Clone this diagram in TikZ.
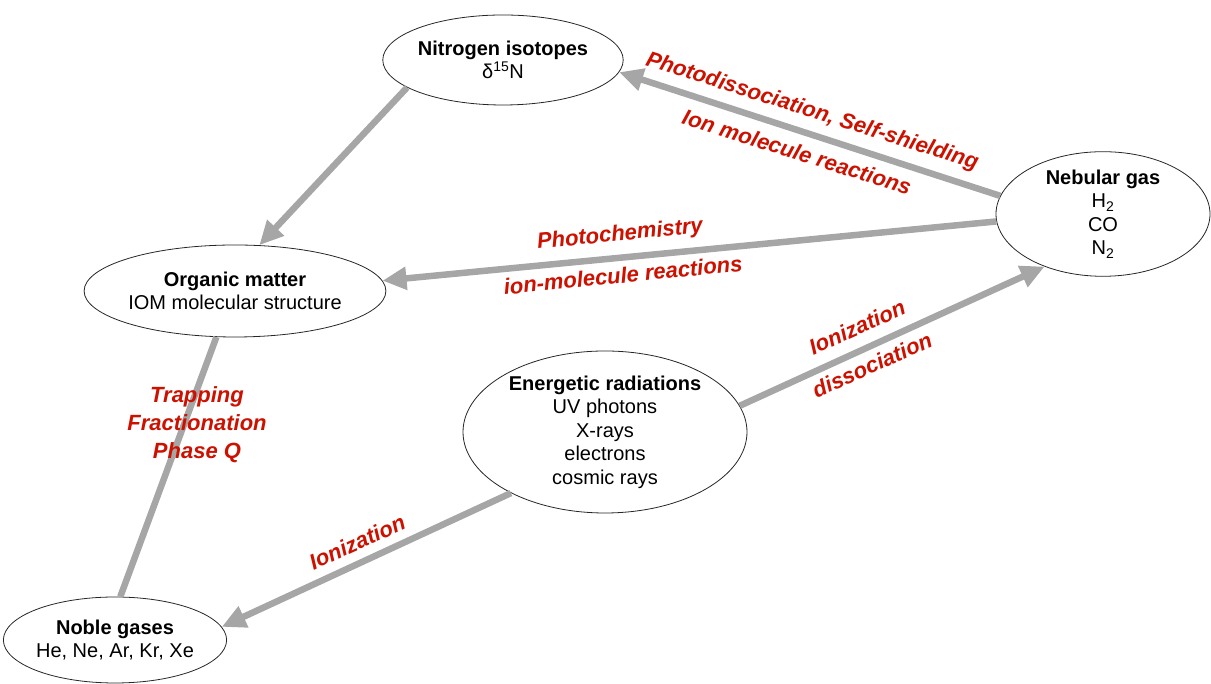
\documentclass[tikz,border=0pt]{standalone}
\usepackage{fontspec}
\setmainfont{Liberation Sans}
\usepackage{tikz}
\usetikzlibrary{arrows.meta,shapes.geometric,positioning}
\definecolor{procred}{RGB}{204,17,0}
\definecolor{flowgray}{RGB}{166,166,166}

\begin{document}
\begin{tikzpicture}[x=1pt,y=1pt]

\tikzset{reservoir/.style={ellipse, draw=black!85, line width=0.8pt, inner sep=0pt, align=center,
                           font=\fontsize{20}{23.5}\selectfont},
         flow/.style={draw=flowgray, line width=6.5pt, -{Triangle[length=24pt,width=22pt]}},
         link/.style={draw=flowgray, line width=6.5pt},
         process/.style={text=procred, inner sep=0pt, align=center,
                         font=\fontsize{22}{28}\selectfont\bfseries\itshape}}

\useasboundingbox (0,0) rectangle (1211,684);

% reservoirs
\node[reservoir, minimum width=203pt, minimum height=90pt] (nitrogen) at (503,624)
    {\textbf{Nitrogen isotopes}\\δ\textsuperscript{15}N};
\node[reservoir, minimum width=214pt, minimum height=124pt] (nebular) at (1103,470)
    {\textbf{Nebular gas}\\H\textsubscript{2}\\CO\\N\textsubscript{2}};
\node[reservoir, minimum width=240pt, minimum height=92pt] (organic) at (235,393)
    {\textbf{Organic matter}\\IOM molecular structure};
\node[reservoir, minimum width=284pt, minimum height=162pt] (energetic) at (605,252)
    {\textbf{Energetic radiations}\\UV photons\\X-rays\\electrons\\cosmic rays};
\node[reservoir, minimum width=204pt, minimum height=86pt] (noble) at (115,44)
    {\textbf{Noble gases}\\He, Ne, Ar, Kr, Xe};

% transfers
\draw[flow] (nitrogen.196) -- (organic.62);
\draw[flow] (nebular.170) -- (nitrogen.354);
\draw[flow] (nebular.184) -- (organic.4);
\draw[flow] (energetic.11) -- (nebular.222);
\draw[flow] (energetic.213) -- (noble.7);
\draw[link] (organic.248) -- (noble.83);

% processes
\node[process, rotate=-17.5] (photodiss) at (812,572) {Photodissociation, Self-shielding};
\node[process, rotate=-17.5] (ionmol) at (797,532) {Ion molecule reactions};
\node[process, rotate=5.7] (photochem) at (620,449) {Photochemistry};
\node[process, rotate=5.7] (ionmolec) at (623,409) {ion-molecule reactions};
\node[process, rotate=24.2] (ionupper) at (857,357) {Ionization};
\node[process, rotate=24.2] (dissoc) at (872,319) {dissociation};
\node[process, rotate=24.4] (ionlower) at (357,142) {Ionization};
\node[process] (trapping) at (197,259) {Trapping\\Fractionation\\Phase Q};

\end{tikzpicture}
\end{document}
